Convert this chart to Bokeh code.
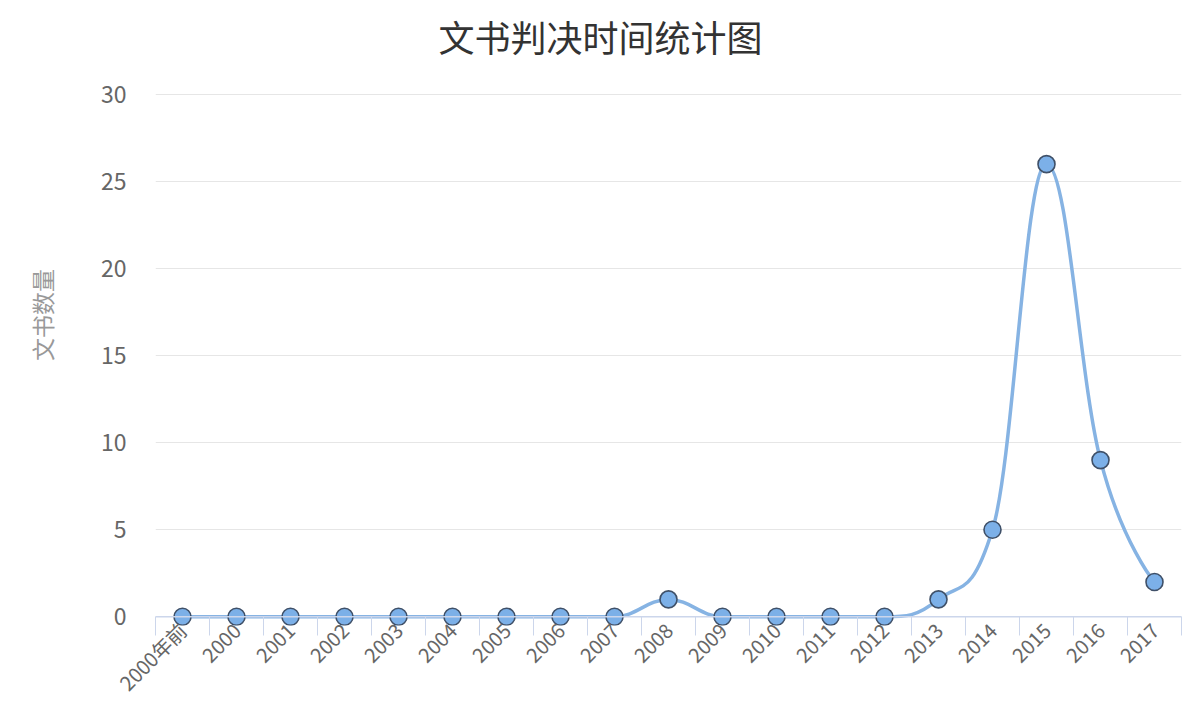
import math
from bokeh.plotting import figure
from bokeh.models import Range1d, FixedTicker, Span, Label
from bokeh.embed import file_html
from bokeh.resources import INLINE

categories = ["2000年前", "2000", "2001", "2002", "2003", "2004", "2005", "2006",
              "2007", "2008", "2009", "2010", "2011", "2012", "2013", "2014",
              "2015", "2016", "2017"]
counts = [0, 0, 0, 0, 0, 0, 0, 0, 0, 1, 0, 0, 0, 0, 1, 5, 26, 9, 2]

title_text = "文书判决时间统计图"
y_title = "文书数量"
y_ticks = [0, 5, 10, 15, 20, 25, 30]

FONT = "Noto Sans CJK SC"

xs = list(range(len(categories)))
ys = counts


def spline_controls(x, y, smoothing=1.5):
    """Highcharts-style spline control points computed from the data points."""
    n = len(x)
    left = [None] * n
    right = [None] * n
    denom = smoothing + 1
    for i in range(1, n - 1):
        px, py = x[i], y[i]
        lx, ly = x[i - 1], y[i - 1]
        nx, ny = x[i + 1], y[i + 1]
        lcx = (smoothing * px + lx) / denom
        lcy = (smoothing * py + ly) / denom
        rcx = (smoothing * px + nx) / denom
        rcy = (smoothing * py + ny) / denom
        corr = 0
        if rcx != lcx:
            corr = (rcy - lcy) * (rcx - px) / (rcx - lcx) + py - rcy
        lcy += corr
        rcy += corr
        if lcy > ly and lcy > py:
            lcy = max(ly, py); rcy = 2 * py - lcy
        elif lcy < ly and lcy < py:
            lcy = min(ly, py); rcy = 2 * py - lcy
        if rcy > ny and rcy > py:
            rcy = max(ny, py); lcy = 2 * py - rcy
        elif rcy < ny and rcy < py:
            rcy = min(ny, py); lcy = 2 * py - rcy
        left[i] = (lcx, lcy)
        right[i] = (rcx, rcy)
    seg = dict(x0=[], y0=[], x1=[], y1=[], cx0=[], cy0=[], cx1=[], cy1=[])
    for i in range(1, n):
        c0 = right[i - 1] if right[i - 1] else (x[i - 1], y[i - 1])
        c1 = left[i] if left[i] else (x[i], y[i])
        seg["x0"].append(x[i - 1]); seg["y0"].append(y[i - 1])
        seg["x1"].append(x[i]); seg["y1"].append(y[i])
        seg["cx0"].append(c0[0]); seg["cy0"].append(c0[1])
        seg["cx1"].append(c1[0]); seg["cy1"].append(c1[1])
    return seg


# layout: the frame reaches the top of the canvas so that the title can sit inside it;
# the extra headroom above the top tick is blank (no outline, no grid there)
FRAME_TOP = 4          # px from canvas top
TOP_TICK_PX = 94       # where the highest tick should land
FRAME_H = 621          # approximate frame height in px
Y_BOTTOM = -0.5
frac = (TOP_TICK_PX - FRAME_TOP) / FRAME_H
y_top = (y_ticks[-1] - frac * Y_BOTTOM) / (1 - frac)

x_lo, x_hi = -0.5, len(categories) - 0.5
p = figure(width=1200, height=709, output_backend="svg", toolbar_location=None,
           x_range=Range1d(x_lo, x_hi), y_range=Range1d(Y_BOTTOM, y_top),
           min_border_left=155, min_border_right=19, min_border_top=FRAME_TOP, min_border_bottom=10)

p.outline_line_color = None
p.background_fill_color = "white"
p.border_fill_color = "white"

# chart title, centred on the whole canvas
p.add_layout(Label(x=(x_lo + x_hi) / 2, y=y_ticks[-1], x_offset=-68, y_offset=59,
                   text=title_text, text_align="center", text_baseline="middle",
                   text_font=FONT, text_font_size="36px", text_color="#333333"))

# grid
p.xgrid.grid_line_color = None
p.ygrid.grid_line_color = "#e6e6e6"
p.ygrid.grid_line_width = 1

# y axis (bounded to the tick span so its title is centred on 0..30)
p.yaxis.ticker = FixedTicker(ticks=y_ticks)
p.yaxis.bounds = (y_ticks[0], y_ticks[-1])
p.yaxis.axis_line_color = None
p.yaxis.major_tick_line_color = None
p.yaxis.minor_tick_line_color = None
p.yaxis.major_label_text_font = FONT
p.yaxis.major_label_text_font_size = "23px"
p.yaxis.major_label_text_color = "#666666"
p.yaxis.major_label_standoff = 23
p.yaxis.axis_label = y_title
p.yaxis.axis_label_text_font = FONT
p.yaxis.axis_label_text_font_size = "23px"
p.yaxis.axis_label_text_font_style = "normal"
p.yaxis.axis_label_text_color = "#999999"
p.yaxis.axis_label_standoff = 39

# x axis
p.xaxis.ticker = FixedTicker(ticks=xs, minor_ticks=[i - 0.5 for i in range(len(categories) + 1)])
p.xaxis.major_label_overrides = {i: c for i, c in enumerate(categories)}
p.xaxis.axis_line_color = None
p.xaxis.major_tick_line_color = None
p.xaxis.major_tick_out = 9
p.xaxis.major_tick_in = 0
p.xaxis.minor_tick_line_color = "#ccd6eb"
p.xaxis.minor_tick_in = 9
p.xaxis.minor_tick_out = 10
p.xaxis.major_label_orientation = math.pi / 4
p.xaxis.major_label_standoff = -9
p.xaxis.major_label_text_font = FONT
p.xaxis.major_label_text_font_size = "20px"
p.xaxis.major_label_text_color = "#666666"

# baseline at zero
p.add_layout(Span(location=0, dimension="width", line_color="#ccd6eb", line_width=1.5))

seg = spline_controls(xs, ys)
p.bezier(x0="x0", y0="y0", x1="x1", y1="y1", cx0="cx0", cy0="cy0", cx1="cx1", cy1="cy1",
         source=seg, line_color="#86b3e3", line_width=3.5, line_cap="round")

p.scatter(xs, ys, size=17, fill_color="#7cb0e8", line_color="#3f5068", line_width=1.6)

open("out.html", "w").write(file_html(p, INLINE))
